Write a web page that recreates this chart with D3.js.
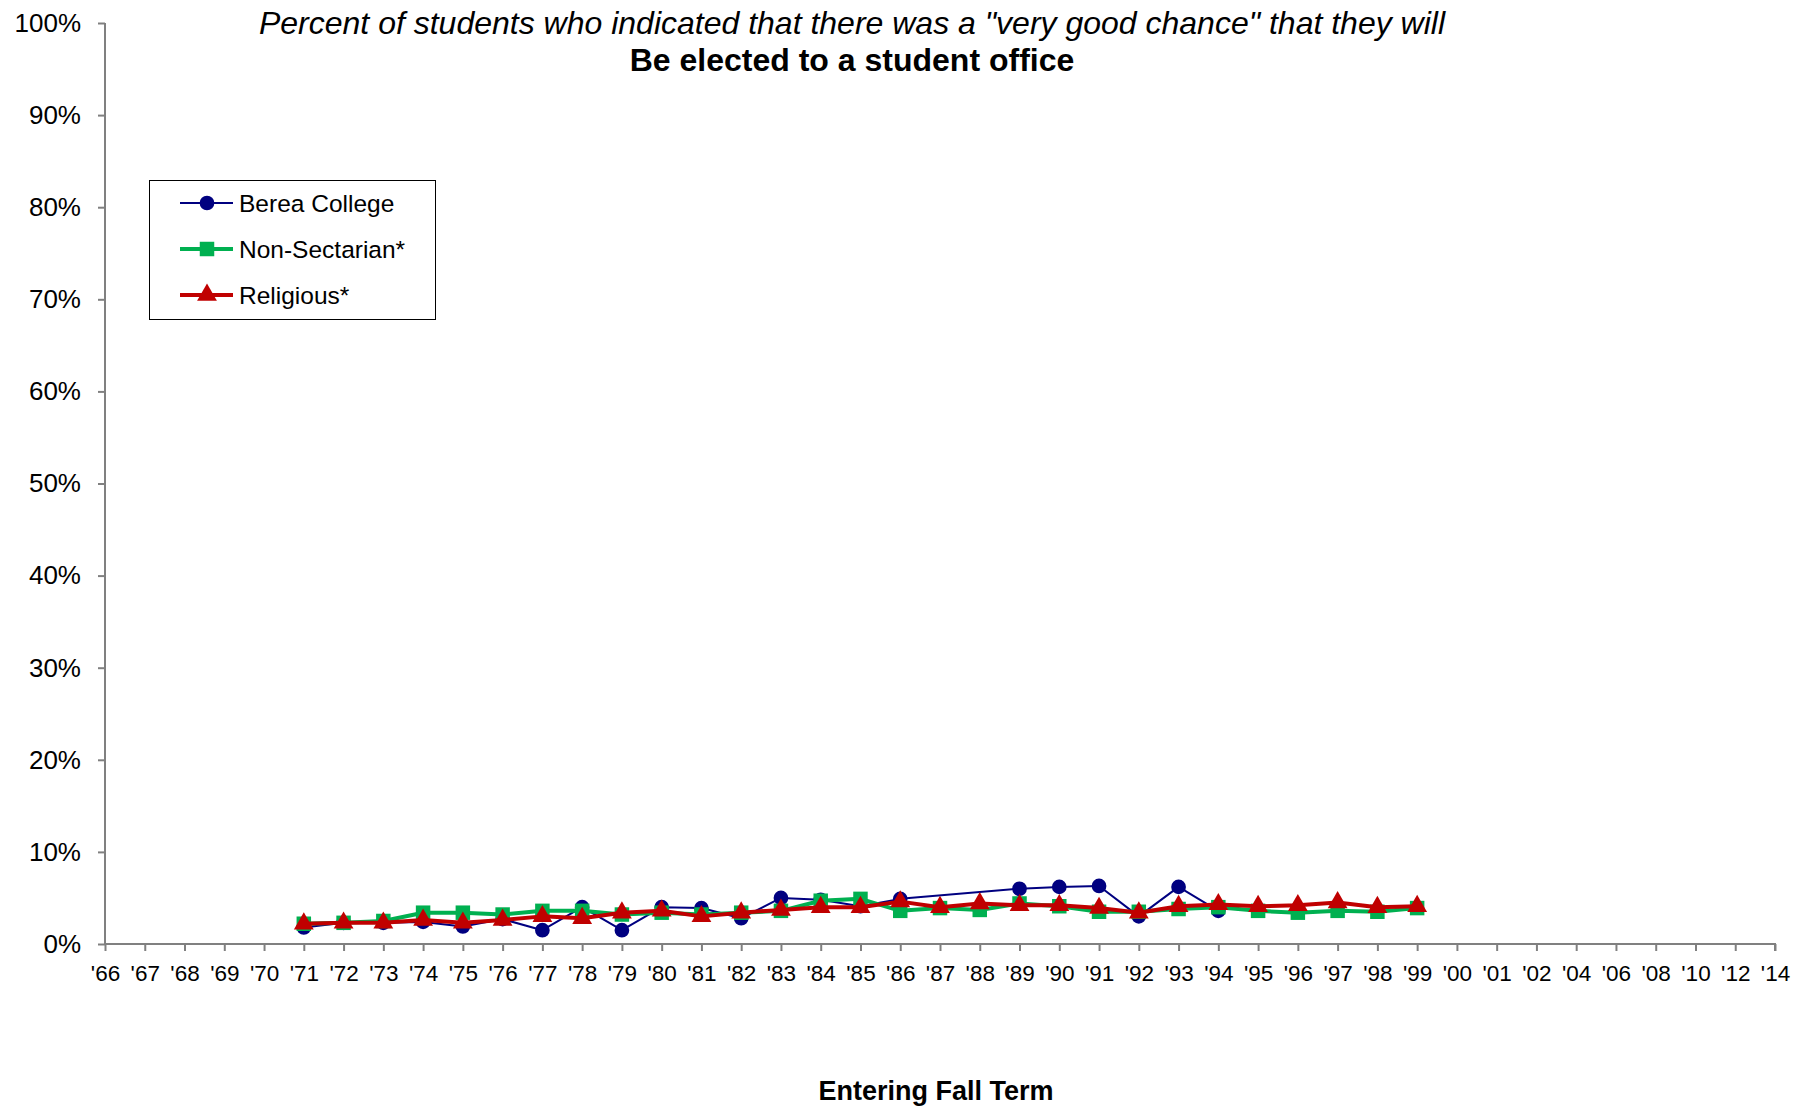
<!DOCTYPE html>
<html>
<head>
<meta charset="utf-8">
<script src="https://cdn.jsdelivr.net/npm/d3@7"></script>
<style>
  body { margin: 0; background: #fff; }
  svg text { font-family: "Liberation Sans", Arial, sans-serif; fill: #000; }
  .axis path, .axis line { stroke: #808080; stroke-width: 2px; }
</style>
</head>
<body>
<script>
var w = 1812;
var h = 1107;

// category labels on the x axis
var years = ["'66","'67","'68","'69","'70","'71","'72","'73","'74","'75","'76","'77","'78","'79",
  "'80","'81","'82","'83","'84","'85","'86","'87","'88","'89","'90","'91","'92","'93","'94",
  "'95","'96","'97","'98","'99","'00","'01","'02","'04","'06","'08","'10","'12","'14"];

// values in percent, '66 .. '14 (null = no survey data)
var berea = [null,null,null,null,null,
  1.8,2.3,2.3,2.4,1.9,2.7,1.5,4.0,1.5,4.0,3.9,2.8,5.0,4.8,4.1,4.9,null,null,6.0,6.2,6.3,3.0,6.2,3.6,
  null,null,null,null,null,null,null,null,null,null,null,null,null,null];
var nonSectarian = [null,null,null,null,null,
  2.2,2.3,2.5,3.4,3.4,3.2,3.6,3.6,3.2,3.4,3.2,3.4,3.6,4.7,4.9,3.6,3.9,3.7,4.4,4.1,3.5,3.5,3.8,4.0,
  3.6,3.4,3.6,3.5,3.9,null,null,null,null,null,null,null,null,null];
var religious = [null,null,null,null,null,
  2.2,2.3,2.3,2.6,2.3,2.6,3.0,2.8,3.4,3.6,3.0,3.4,3.7,4.0,4.0,4.6,4.0,4.4,4.2,4.2,3.9,3.4,4.1,4.3,
  4.1,4.2,4.5,4.0,4.1,null,null,null,null,null,null,null,null,null];

var yTicks = [0,10,20,30,40,50,60,70,80,90,100];

var series = [
  {name: "Berea College", values: berea, color: "#000080", width: 2, marker: "circle"},
  {name: "Non-Sectarian*", values: nonSectarian, color: "#00B050", width: 4, marker: "square"},
  {name: "Religious*", values: religious, color: "#C00000", width: 4, marker: "triangle"}
];

var svg = d3.select("body").append("svg")
  .attr("width", w)
  .attr("height", h);

var xScale = d3.scalePoint()
  .domain(years)
  .range([105, 1775])
  .padding(0);

var yScale = d3.scaleLinear()
  .domain([0, 100])
  .range([944, 23]);

// axes
var yAxis = d3.axisLeft(yScale)
  .tickValues(yTicks)
  .tickSize(7)
  .tickPadding(17)
  .tickFormat(function(d) { return d + "%"; });

var xAxis = d3.axisBottom(xScale)
  .tickSize(7)
  .tickPadding(14);

svg.append("g")
  .attr("class", "axis")
  .attr("transform", "translate(105,0)")
  .call(yAxis)
  .call(function(g) {
    g.select(".domain").attr("d", "M0," + yScale(100) + "V" + yScale(0));
    g.selectAll("text").attr("font-size", "26px").attr("fill", "#000");
  });

svg.append("g")
  .attr("class", "axis")
  .attr("transform", "translate(0,944)")
  .call(xAxis)
  .call(function(g) {
    g.select(".domain").attr("d", "M105,0H1775V7");
    g.selectAll("text").attr("font-size", "22.5px").attr("fill", "#000");
  });

// lines
var line = d3.line()
  .x(function(d) { return xScale(d.year); })
  .y(function(d) { return yScale(d.v); });

function points(s) {
  return s.values.map(function(v, i) { return {year: years[i], v: v}; });
}

var symbolFor = {
  circle: d3.symbol().type(d3.symbolCircle).size(170),
  square: d3.symbol().type(d3.symbolSquare).size(210),
  triangle: d3.symbol().type(d3.symbolTriangle).size(170)
};

series.forEach(function(s) {
  var valid = points(s).filter(function(d) { return d.v !== null; });
  svg.append("path")
    .datum(valid)
    .attr("fill", "none")
    .attr("stroke", s.color)
    .attr("stroke-width", s.width)
    .attr("stroke-linejoin", "round")
    .attr("d", line);
  svg.selectAll(null)
    .data(valid)
    .enter()
    .append("path")
    .attr("d", symbolFor[s.marker])
    .attr("transform", function(d) { return "translate(" + xScale(d.year) + "," + yScale(d.v) + ")"; })
    .attr("fill", s.color);
});

// legend
var legend = svg.append("g");
legend.append("rect")
  .attr("x", 149.5).attr("y", 180.5)
  .attr("width", 286).attr("height", 139)
  .attr("fill", "#fff").attr("stroke", "#000").attr("stroke-width", 1);

series.forEach(function(s, i) {
  var cy = 203 + i * 46;
  legend.append("line")
    .attr("x1", 180).attr("x2", 233)
    .attr("y1", cy).attr("y2", cy)
    .attr("stroke", s.color).attr("stroke-width", s.width);
  legend.append("path")
    .attr("d", symbolFor[s.marker])
    .attr("transform", "translate(207," + cy + ")")
    .attr("fill", s.color);
  legend.append("text")
    .attr("x", 239).attr("y", cy + 9)
    .attr("font-size", "24.5px")
    .text(s.name);
});

// titles
svg.append("text")
  .attr("x", 852).attr("y", 34)
  .attr("text-anchor", "middle")
  .attr("font-size", "32px")
  .attr("font-style", "italic")
  .text("Percent of students who indicated that there was a \"very good chance\" that they will");

svg.append("text")
  .attr("x", 852).attr("y", 71)
  .attr("text-anchor", "middle")
  .attr("font-size", "32px")
  .attr("font-weight", "bold")
  .text("Be elected to a student office");

svg.append("text")
  .attr("x", 936).attr("y", 1100)
  .attr("text-anchor", "middle")
  .attr("font-size", "27px")
  .attr("font-weight", "bold")
  .text("Entering Fall Term");
</script>
</body>
</html>
